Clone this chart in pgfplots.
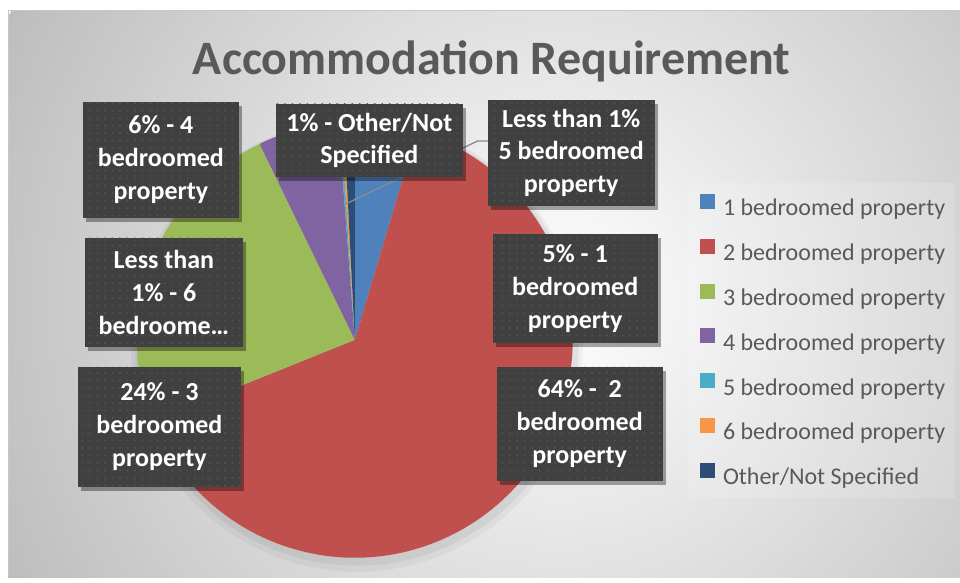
\documentclass[border=0pt]{standalone}
\usepackage{fontspec}
\setmainfont{Carlito}
\usepackage{pgfplots}
\usepackage{pgfplotstable}
\pgfplotsset{compat=1.18}
\usetikzlibrary{shadows,patterns.meta}

\definecolor{c1}{HTML}{4F81BD}
\definecolor{c2}{HTML}{C0504D}
\definecolor{c3}{HTML}{9BBB59}
\definecolor{c4}{HTML}{8064A2}
\definecolor{c5}{HTML}{4BACC6}
\definecolor{c6}{HTML}{F79646}
\definecolor{c7}{HTML}{2C4D75}
\definecolor{lblfill}{HTML}{404040}
\definecolor{dotcol}{HTML}{585858}
\definecolor{titlecol}{HTML}{595959}
\definecolor{legcol}{HTML}{595959}
\definecolor{bggray}{HTML}{BDBDBD}

% share of each category, percent
\pgfplotstableread[col sep=comma]{
name,value,color
1 bedroomed property,4.6,c1
2 bedroomed property,64.3,c2
3 bedroomed property,23.9,c3
4 bedroomed property,6.0,c4
5 bedroomed property,0.2,c5
6 bedroomed property,0.2,c6
Other/Not Specified,0.8,c7
}\piedata

\tikzset{
  lbl/.style={fill=lblfill, text=white, align=center, inner sep=0pt,
    font=\fontsize{26bp}{33bp}\selectfont\bfseries,
    drop shadow={shadow xshift=3bp, shadow yshift=-4bp, opacity=0.35, fill=black},
    postaction={pattern={Dots[radius=0.9bp, distance=7.5bp]}, pattern color=dotcol}}
}

\begin{document}
\begin{tikzpicture}
\begin{axis}[
    x=1bp, y=1bp, y dir=reverse,
    xmin=0, xmax=960, ymin=0, ymax=578,
    hide axis, clip=false,
    legend style={at={(axis cs:700,194)}, anchor=north west, draw=none, fill=none,
      inner sep=0pt, outer sep=0pt, row sep=19.6bp, column sep=7bp,
      font=\fontsize{24bp}{28bp}\selectfont, text=legcol},
    legend cell align=left,
    legend image code/.code={\fill[#1] (0bp,0bp) rectangle (14bp,14bp);},
  ]
  % background
  \fill[white] (axis cs:0,0) rectangle (axis cs:960,578);
  \begin{scope}
    \clip (axis cs:9,11) rectangle (axis cs:960,578);
    \shade[inner color=white, outer color=bggray] (axis cs:560,300) circle (620bp);
  \end{scope}
  \draw[black!22, line width=1bp] (axis cs:9,578) -- (axis cs:9,11) -- (axis cs:960,11);
  \fill[white, opacity=0.15] (axis cs:688,183) rectangle (axis cs:955,498);

  % soft shadow under the pie
  \fill[black, opacity=0.04] (axis cs:357,346) circle (226bp);
  \fill[black, opacity=0.05] (axis cs:357,344) circle (222bp);

  % pie slices, clockwise from 12 o'clock
  \gdef\cum{0}
  \pgfplotsinvokeforeach{0,...,6}{%
    \pgfplotstablegetelem{#1}{value}\of\piedata
    \pgfmathsetmacro{\aone}{90-3.6*\cum}
    \pgfmathsetmacro{\newcum}{\cum+\pgfplotsretval}
    \xdef\cum{\newcum}
    \pgfmathsetmacro{\atwo}{90-3.6*\cum}
    \pgfplotstablegetelem{#1}{color}\of\piedata
    \edef\temp{\noexpand\fill[\pgfplotsretval] (axis cs:355,340) -- ++(\aone:218bp)
      arc[start angle=\aone, end angle=\atwo, radius=218bp] -- cycle;}%
    \temp
  }

  % leader line
  \draw[black!45, line width=1.3bp] (axis cs:346,204) -- (axis cs:478,141) -- (axis cs:488,141);

  % title
  \node[anchor=base, text=titlecol, font=\fontsize{48bp}{58bp}\selectfont\bfseries]
    at (axis cs:492,75) {Accommodation Requirement};

  % data labels
  \node[lbl, minimum width=156bp, minimum height=116bp] at (axis cs:161,160) {6\% - 4\\bedroomed\\property};
  \node[lbl, minimum width=187bp, minimum height=73bp] at (axis cs:369.5,140.5) {1\% - Other/Not\\Specified};
  \node[lbl, minimum width=167bp, minimum height=106bp] at (axis cs:571.5,153) {Less than 1\%\\5 bedroomed\\property};
  \node[lbl, minimum width=158bp, minimum height=109bp] at (axis cs:164,292.5) {Less than\\1\% - 6\\bedroome…};
  \node[lbl, minimum width=165bp, minimum height=109bp] at (axis cs:575.5,288.5) {5\% - 1\\bedroomed\\property};
  \node[lbl, minimum width=163bp, minimum height=120bp] at (axis cs:159.5,427) {24\% - 3\\bedroomed\\property};
  \node[lbl, minimum width=166bp, minimum height=114bp] at (axis cs:580,424) {64\% -\ \ 2\\bedroomed\\property};

  % legend
  \addlegendimage{c1}\addlegendentry{1 bedroomed property}
  \addlegendimage{c2}\addlegendentry{2 bedroomed property}
  \addlegendimage{c3}\addlegendentry{3 bedroomed property}
  \addlegendimage{c4}\addlegendentry{4 bedroomed property}
  \addlegendimage{c5}\addlegendentry{5 bedroomed property}
  \addlegendimage{c6}\addlegendentry{6 bedroomed property}
  \addlegendimage{c7}\addlegendentry{Other/Not Specified}
\end{axis}
\end{tikzpicture}
\end{document}
